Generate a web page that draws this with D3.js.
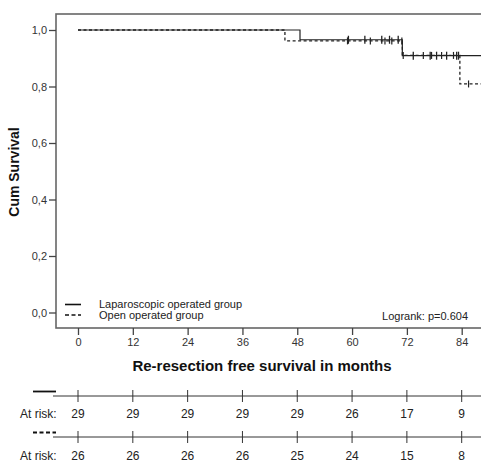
<!DOCTYPE html>
<html>
<head>
<meta charset="utf-8">
<script src="https://cdn.jsdelivr.net/npm/d3@7"></script>
<style>
  body { margin: 0; background: #fff; }
  svg { display: block; font-family: "Liberation Sans", Arial, sans-serif; }
</style>
</head>
<body>
<svg id="km"></svg>
<script>
// step data (months, cumulative survival)
const lapTimes = [0, 48.6, 71.0, 88.5];
const lapSurv = [1.0, 0.9655, 0.909, 0.909];
const openTimes = [0, 45.3, 71.0, 83.6, 88.5];
const openSurv = [1.0, 0.9615, 0.91, 0.809, 0.809];

// censored observations
const lapCensor = [59.2, 62.8, 66.5, 68.2, 70.1, 73.4, 77.1, 78.5, 80.7, 82.9, 83.3];
const openCensor = [59.0, 64.0, 67.2, 68.7, 70.9, 71.2, 75.6, 77.4, 79.6, 82.2, 85.5];

const xTicks = [0, 12, 24, 36, 48, 60, 72, 84];
const yTicks = [0, 0.2, 0.4, 0.6, 0.8, 1.0];
const lapRisk = [29, 29, 29, 29, 29, 26, 17, 9];
const openRisk = [26, 26, 26, 26, 25, 24, 15, 8];

const width = 481, height = 463;
const svg = d3.select('#km').attr('width', width).attr('height', height);

const frame = { left: 56, top: 14, bottom: 328, right: 495 };

const x = d3.scaleLinear().domain([0, 84]).range([78, 461.7]);
const y = d3.scaleLinear().domain([0, 1]).range([312.5, 30]);

// frame
svg.append('rect')
  .attr('x', frame.left).attr('y', frame.top)
  .attr('width', frame.right - frame.left)
  .attr('height', frame.bottom - frame.top)
  .attr('fill', 'none').attr('stroke', '#666').attr('stroke-width', 1.6);

// y axis
const yAxis = d3.axisLeft(y).tickValues(yTicks).tickSize(7).tickPadding(2)
  .tickFormat(d => d3.format('.1f')(d).replace('.', ','));
svg.append('g').attr('transform', `translate(${frame.left},0)`).call(yAxis)
  .call(g => g.select('.domain').remove())
  .call(g => g.selectAll('line').attr('stroke', '#444').attr('stroke-width', 1.3))
  .call(g => g.selectAll('text').attr('fill', '#333').attr('font-size', 11));

// x axis
const xAxis = d3.axisBottom(x).tickValues(xTicks).tickSize(7).tickPadding(3);
svg.append('g').attr('transform', `translate(0,${frame.bottom})`).call(xAxis)
  .call(g => g.select('.domain').remove())
  .call(g => g.selectAll('line').attr('stroke', '#444').attr('stroke-width', 1.3))
  .call(g => g.selectAll('text').attr('fill', '#333').attr('font-size', 11));

svg.append('text')
  .attr('transform', 'rotate(-90)')
  .attr('x', -172).attr('y', 19)
  .attr('text-anchor', 'middle')
  .attr('font-size', 14).attr('font-weight', 'bold').attr('fill', '#111')
  .text('Cum Survival');

svg.append('text')
  .attr('x', 262).attr('y', 371)
  .attr('text-anchor', 'middle')
  .attr('font-size', 15).attr('font-weight', 'bold').attr('fill', '#111')
  .text('Re-resection free survival in months');

// curves
const line = d3.line()
  .x(d => x(d[0]))
  .y(d => y(d[1]))
  .curve(d3.curveStepAfter);

const plot = svg.append('g');

plot.append('path')
  .datum(openTimes.map((t, i) => [t, openSurv[i]]))
  .attr('fill', 'none').attr('stroke', '#222').attr('stroke-width', 1.3)
  .attr('stroke-dasharray', '3,2.5')
  .attr('d', line);

plot.append('path')
  .datum(lapTimes.map((t, i) => [t, lapSurv[i]]))
  .attr('fill', 'none').attr('stroke', '#222').attr('stroke-width', 1.2)
  .attr('d', line);

function survAt(times, surv, t) {
  let s = surv[0];
  times.forEach((tt, i) => { if (t >= tt) s = surv[i]; });
  return s;
}

plot.selectAll('.lapc').data(lapCensor).join('line')
  .attr('x1', d => x(d)).attr('x2', d => x(d))
  .attr('y1', d => y(survAt(lapTimes, lapSurv, d)) - 4)
  .attr('y2', d => y(survAt(lapTimes, lapSurv, d)) + 4)
  .attr('stroke', '#222').attr('stroke-width', 1.3);

plot.selectAll('.openc').data(openCensor).join('line')
  .attr('x1', d => x(d)).attr('x2', d => x(d))
  .attr('y1', d => y(survAt(openTimes, openSurv, d)) - 3.5)
  .attr('y2', d => y(survAt(openTimes, openSurv, d)) + 3.5)
  .attr('stroke', '#222').attr('stroke-width', 1.2);

// legend inside plot
const leg = svg.append('g').attr('font-size', 11).attr('fill', '#222');
leg.append('line').attr('x1', 65).attr('x2', 81).attr('y1', 304.5).attr('y2', 304.5)
  .attr('stroke', '#111').attr('stroke-width', 1.6);
leg.append('text').attr('x', 99).attr('y', 308).text('Laparoscopic operated group');
leg.append('line').attr('x1', 65).attr('x2', 81).attr('y1', 315).attr('y2', 315)
  .attr('stroke', '#111').attr('stroke-width', 1.6).attr('stroke-dasharray', '4,2.5');
leg.append('text').attr('x', 99).attr('y', 319).text('Open operated group');

svg.append('text').attr('x', 468).attr('y', 320)
  .attr('text-anchor', 'end').attr('font-size', 11).attr('fill', '#222')
  .text('Logrank: p=0.604');

// at-risk table
function riskRow(values, lineY, textY, dashed) {
  const g = svg.append('g');
  g.append('line').attr('x1', 33).attr('x2', 56)
    .attr('y1', lineY - 4.5).attr('y2', lineY - 4.5)
    .attr('stroke', '#111').attr('stroke-width', 1.8)
    .attr('stroke-dasharray', dashed ? '4,2.5' : null);
  g.append('line').attr('x1', 53).attr('x2', width)
    .attr('y1', lineY).attr('y2', lineY)
    .attr('stroke', '#333').attr('stroke-width', 1);
  g.selectAll('.tk').data(xTicks).join('line')
    .attr('x1', d => x(d)).attr('x2', d => x(d))
    .attr('y1', lineY - 6).attr('y2', lineY + 6)
    .attr('stroke', '#333').attr('stroke-width', 1);
  g.append('text').attr('x', 20).attr('y', textY)
    .attr('font-size', 12).attr('fill', '#222').text('At risk:');
  g.selectAll('.val').data(values).join('text')
    .attr('x', (d, i) => x(xTicks[i])).attr('y', textY)
    .attr('text-anchor', 'middle')
    .attr('font-size', 12).attr('fill', '#222')
    .text(d => d);
}
riskRow(lapRisk, 396, 418, false);
riskRow(openRisk, 437, 460, true);
</script>
</body>
</html>
